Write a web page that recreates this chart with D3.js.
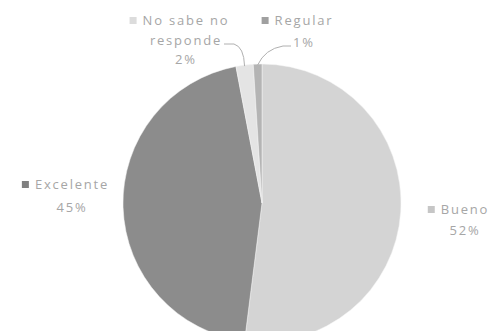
<!DOCTYPE html>
<html>
<head>
<meta charset="utf-8">
<script src="https://cdn.jsdelivr.net/npm/d3@7"></script>
<style>
  html, body { margin: 0; padding: 0; background: #ffffff; }
  svg { display: block; }
  text { font-family: "Open Sans", "DejaVu Sans", sans-serif; }
</style>
</head>
<body>
<svg id="chart" width="494" height="331"></svg>
<script>
// Survey answers, clockwise from 12 o'clock
const categories = ["Bueno", "Excelente", "No sabe no responde", "Regular"];
const values = [52, 45, 2, 1];
const labelLines = [["Bueno"], ["Excelente"], ["No sabe no", "responde"], ["Regular"]];
const colors = ["#d4d4d4", "#8c8c8c", "#e4e4e4", "#b4b4b4"];
const keyColors = ["#c6c6c6", "#808080", "#dcdcdc", "#a0a0a0"];

const svg = d3.select("#chart");
const cx = 262, cy = 203, R = 139;

const pie = d3.pie().sort(null).value(d => d.value).startAngle(0).endAngle(2 * Math.PI);
const arc = d3.arc().innerRadius(0).outerRadius(R);

const data = categories.map((c, i) => ({ name: c, value: values[i], lines: labelLines[i], color: colors[i], key: keyColors[i] }));
const arcs = pie(data);

const g = svg.append("g").attr("transform", `translate(${cx},${cy})`);
g.selectAll("path.slice")
  .data(arcs)
  .enter().append("path")
  .attr("class", "slice")
  .attr("d", arc)
  .attr("fill", d => d.data.color)
  .attr("stroke", "#f4f4f4")
  .attr("stroke-width", 0.5);

// Label anchors: centre of each text block, first-line baseline, line step
const labelPos = {
  "Bueno": { x: 465, y: 214, step: 21 },
  "Excelente": { x: 72, y: 189, step: 23 },
  "No sabe no responde": { x: 186, y: 25, step: 19.5 },
  "Regular": { x: 304, y: 25, step: 22 }
};

const textColor = "#a6a6a6";
const fs = 13;

arcs.forEach(a => {
  const d = a.data;
  const p = labelPos[d.name];
  const lg = svg.append("g").attr("transform", `translate(${p.x},${p.y})`);
  const lines = d.lines.concat([d.value + "%"]);
  lines.forEach((ln, i) => {
    lg.append("text")
      .attr("x", 0)
      .attr("y", i * p.step)
      .attr("text-anchor", "middle")
      .attr("font-size", fs)
      .attr("letter-spacing", 1.8)
      .attr("fill", textColor)
      .text(ln);
  });
  // legend key to the left of the first line
  const bb = lg.select("text").node().getBBox();
  lg.append("rect")
    .attr("x", bb.x - 13)
    .attr("y", -8)
    .attr("width", 7)
    .attr("height", 7)
    .attr("fill", d.key);
});

// Leader lines for the two thin slices at the top
function leader(a, pts) {
  const mid = (a.startAngle + a.endAngle) / 2;
  const ex = cx + Math.sin(mid) * R, ey = cy - Math.cos(mid) * R;
  const path = d3.path();
  path.moveTo(pts[0][0], pts[0][1]);
  path.lineTo(pts[1][0], pts[1][1]);
  path.quadraticCurveTo(pts[2][0], pts[2][1], ex, ey + 1);
  svg.append("path")
    .attr("d", path.toString())
    .attr("fill", "none")
    .attr("stroke", "#b0b0b0")
    .attr("stroke-width", 1);
}
leader(arcs[2], [[224, 44], [234, 44], [244, 47]]);
leader(arcs[3], [[291, 46], [283, 46], [265, 49]]);
</script>
</body>
</html>
